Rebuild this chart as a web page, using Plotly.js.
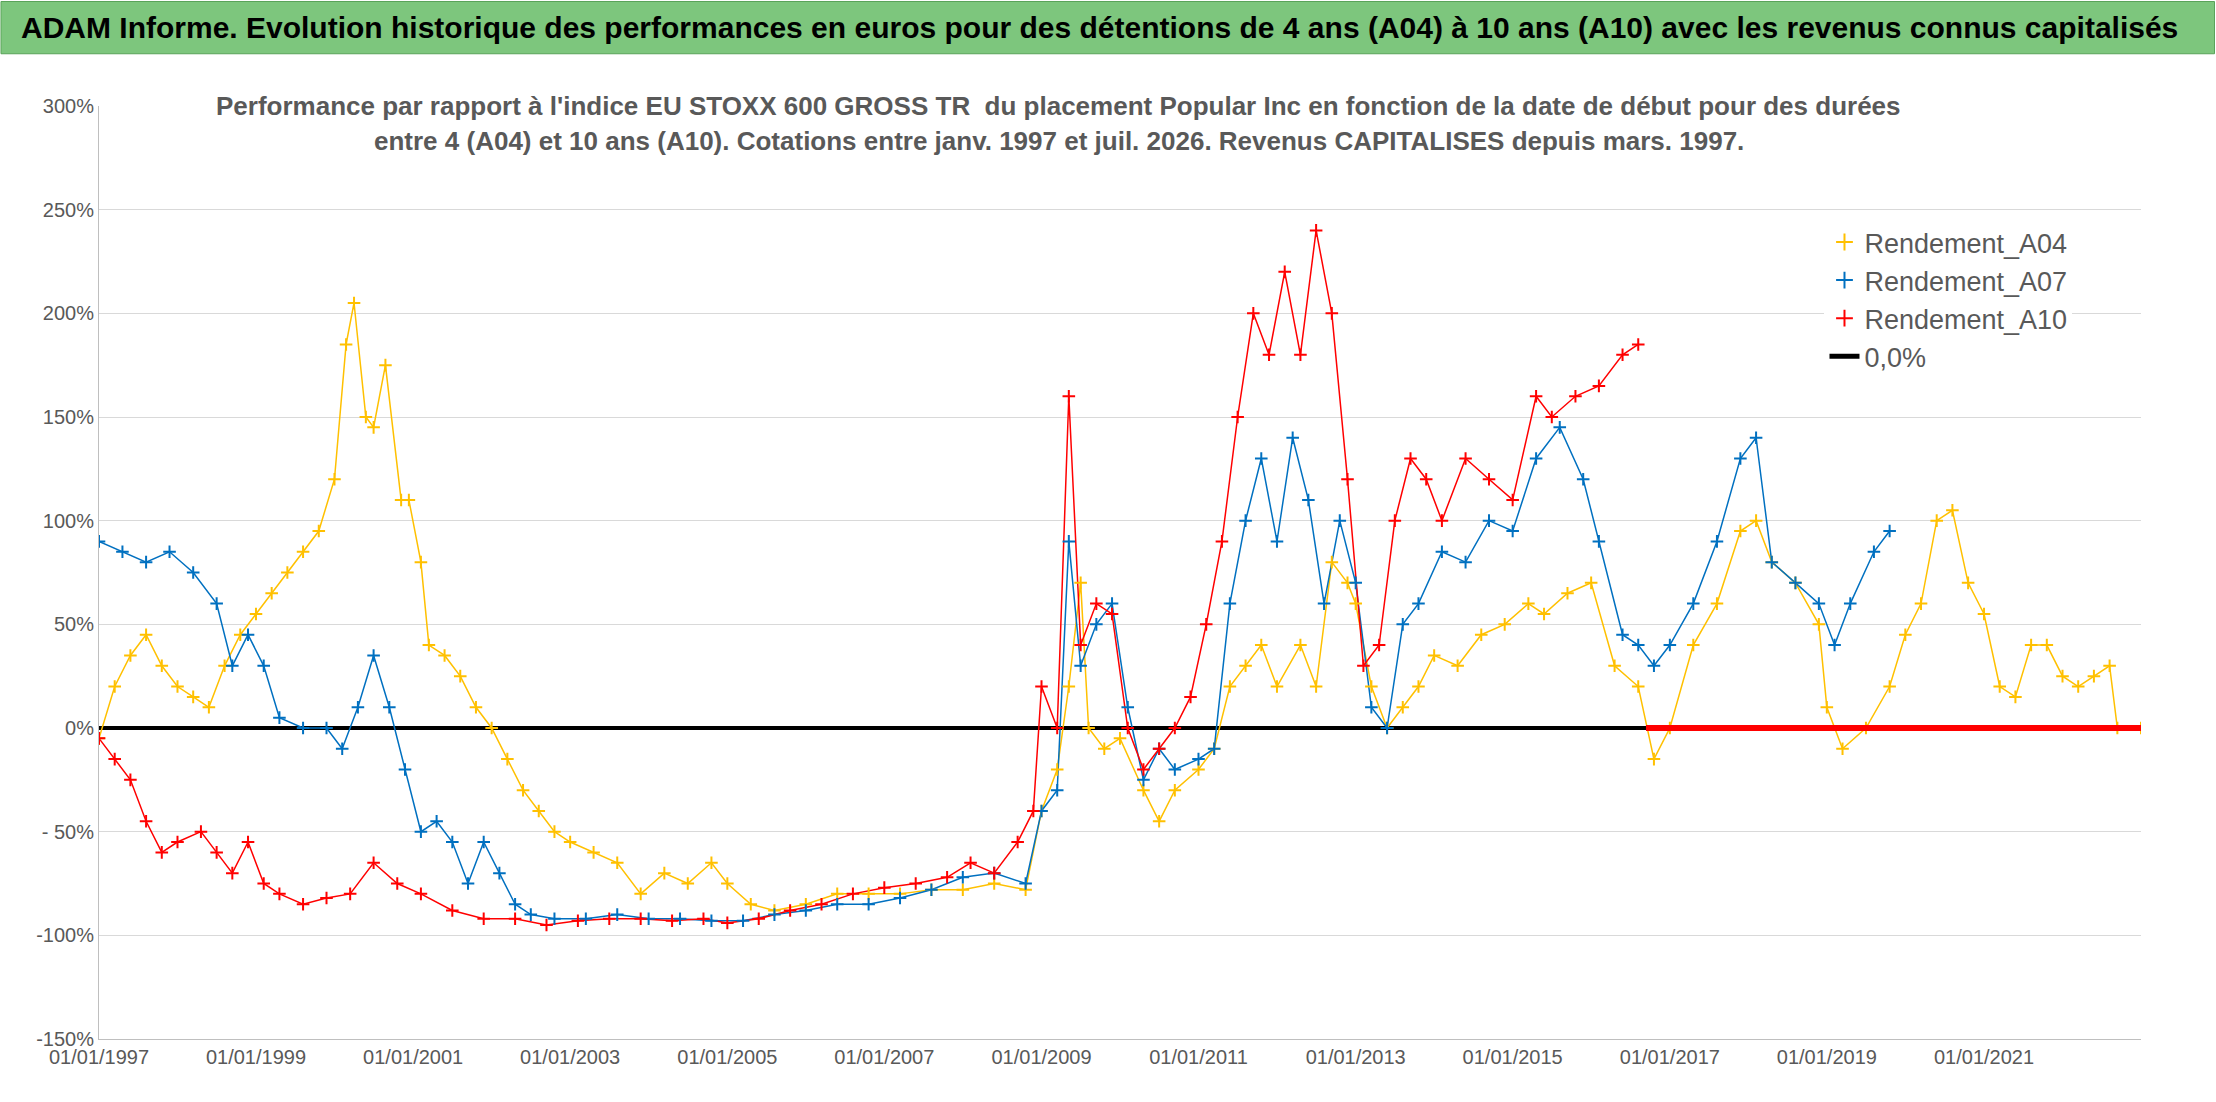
<!DOCTYPE html><html><head><meta charset="utf-8">
<script src="https://cdn.plot.ly/plotly-3.0.1.min.js"></script>
<style>body{margin:0;background:#fff}#c{width:2216px;height:1102px}</style></head><body><div id="c"></div><script>
const a04Years=[1997.0,1997.2,1997.4,1997.6,1997.8,1998.0,1998.2,1998.4,1998.6,1998.8,1999.0,1999.2,1999.4,1999.6,1999.8,2000.0,2000.15,2000.25,2000.4,2000.5,2000.65,2000.85,2000.95,2001.1,2001.2,2001.4,2001.6,2001.8,2002.0,2002.2,2002.4,2002.6,2002.8,2003.0,2003.3,2003.6,2003.9,2004.2,2004.5,2004.8,2005.0,2005.3,2005.6,2006.0,2006.4,2006.8,2007.2,2007.6,2008.0,2008.4,2008.8,2009.0,2009.2,2009.35,2009.5,2009.6,2009.8,2010.0,2010.3,2010.5,2010.7,2011.0,2011.2,2011.4,2011.6,2011.8,2012.0,2012.3,2012.5,2012.7,2012.9,2013.0,2013.2,2013.4,2013.6,2013.8,2014.0,2014.3,2014.6,2014.9,2015.2,2015.4,2015.7,2016.0,2016.3,2016.6,2016.8,2017.0,2017.3,2017.6,2017.9,2018.1,2018.3,2018.6,2018.9,2019.0,2019.2,2019.5,2019.8,2020.0,2020.2,2020.4,2020.6,2020.8,2021.0,2021.2,2021.4,2021.6,2021.8,2022.0,2022.2,2022.4,2022.6,2022.7,2023.0];
const a04Vals=[-5,20,35,45,30,20,15,10,30,45,55,65,75,85,95,120,185,205,150,145,175,110,110,80,40,35,25,10,0,-15,-30,-40,-50,-55,-60,-65,-80,-70,-75,-65,-75,-85,-88,-85,-80,-80,-80,-78,-78,-75,-78,-40,-20,20,70,0,-10,-5,-30,-45,-30,-20,-10,20,30,40,20,40,20,80,70,60,20,0,10,20,35,30,45,50,60,55,65,70,30,20,-15,0,40,60,95,100,80,70,50,10,-10,0,20,45,60,100,105,70,55,20,15,40,40,25,20,25,30,0,0];
const a07Years=[1997.0,1997.3,1997.6,1997.9,1998.2,1998.5,1998.7,1998.9,1999.1,1999.3,1999.6,1999.9,2000.1,2000.3,2000.5,2000.7,2000.9,2001.1,2001.3,2001.5,2001.7,2001.9,2002.1,2002.3,2002.5,2002.8,2003.2,2003.6,2004.0,2004.4,2004.8,2005.2,2005.6,2006.0,2006.4,2006.8,2007.2,2007.6,2008.0,2008.4,2008.8,2009.0,2009.2,2009.35,2009.5,2009.7,2009.9,2010.1,2010.3,2010.5,2010.7,2011.0,2011.2,2011.4,2011.6,2011.8,2012.0,2012.2,2012.4,2012.6,2012.8,2013.0,2013.2,2013.4,2013.6,2013.8,2014.1,2014.4,2014.7,2015.0,2015.3,2015.6,2015.9,2016.1,2016.4,2016.6,2016.8,2017.0,2017.3,2017.6,2017.9,2018.1,2018.3,2018.6,2018.9,2019.1,2019.3,2019.6,2019.8];
const a07Vals=[90,85,80,85,75,60,30,45,30,5,0,0,-10,10,35,10,-20,-50,-45,-55,-75,-55,-70,-85,-90,-92,-92,-90,-92,-92,-93,-93,-90,-88,-85,-85,-82,-78,-72,-70,-75,-40,-30,90,30,50,60,10,-25,-10,-20,-15,-10,60,100,130,90,140,110,60,100,70,10,0,50,60,85,80,100,95,130,145,120,90,45,40,30,40,60,90,130,140,80,70,60,40,60,85,95];
const a10Years=[1997.0,1997.2,1997.4,1997.6,1997.8,1998.0,1998.3,1998.5,1998.7,1998.9,1999.1,1999.3,1999.6,1999.9,2000.2,2000.5,2000.8,2001.1,2001.5,2001.9,2002.3,2002.7,2003.1,2003.5,2003.9,2004.3,2004.7,2005.0,2005.4,2005.8,2006.2,2006.6,2007.0,2007.4,2007.8,2008.1,2008.4,2008.7,2008.9,2009.0,2009.2,2009.35,2009.5,2009.7,2009.9,2010.1,2010.3,2010.5,2010.7,2010.9,2011.1,2011.3,2011.5,2011.7,2011.9,2012.1,2012.3,2012.5,2012.7,2012.9,2013.1,2013.3,2013.5,2013.7,2013.9,2014.1,2014.4,2014.7,2015.0,2015.3,2015.5,2015.8,2016.1,2016.4,2016.6];
const a10Vals=[-5,-15,-25,-45,-60,-55,-50,-60,-70,-55,-75,-80,-85,-82,-80,-65,-75,-80,-88,-92,-92,-95,-93,-92,-92,-93,-92,-94,-92,-88,-85,-80,-77,-75,-72,-65,-70,-55,-40,20,0,160,40,60,55,0,-20,-10,0,15,50,90,150,200,180,220,180,240,200,120,30,40,100,130,120,100,130,120,110,160,150,160,165,180,185];
const zeroTailYears=[[2016.7,2023.0],[2019.9,2023.0]];
const tickYears=[1997,1999,2001,2003,2005,2007,2009,2011,2013,2015,2017,2019,2021];
const yTicks=[-150,-100,-50,0,50,100,150,200,250,300];
const yLabels=['-150%','-100%','- 50%','0%','50%','100%','150%','200%','250%','300%'];
function toDate(y){const yr=Math.floor(y);const ms=Date.UTC(yr,0,1)+(y-yr)*365.25*864e5;return new Date(ms).toISOString().slice(0,10);}
const C4='#FFC000',C7='#0070C0',C10='#FF0000';
function mk(xs,ys,c,name,leg){return {type:'scatter',mode:'markers',x:xs.map(toDate),y:ys,name:name,showlegend:leg,
 marker:{symbol:'cross-thin-open',size:9,line:{width:2,color:c},color:c}};}
function ln(xs,ys,c){return {type:'scatter',mode:'lines',x:xs.map(toDate),y:ys,showlegend:false,hoverinfo:'skip',line:{color:c,width:1.5}};}
const data=[
 {type:'scatter',mode:'lines',x:['1997-01-01','2023-01-01'],y:[0,0],name:'0,0%',line:{color:'#000',width:4},showlegend:false},
 ln(a04Years,a04Vals,C4),ln(a07Years,a07Vals,C7),ln(a10Years,a10Vals,C10),
 mk(a04Years,a04Vals,C4,'Rendement_A04',true),
 {type:'scatter',mode:'lines',x:zeroTailYears[1].map(toDate),y:[0,0],showlegend:false,line:{color:C7,width:5}},
 mk(a07Years,a07Vals,C7,'Rendement_A07',true),
 {type:'scatter',mode:'lines',x:zeroTailYears[0].map(toDate),y:[0,0],showlegend:false,line:{color:C10,width:6}},
 mk(a10Years,a10Vals,C10,'Rendement_A10',true),
 {type:'scatter',mode:'lines',x:[null],y:[null],name:'0,0%',line:{color:'#000',width:5}}
];
const F='"Liberation Sans Narrow", "Liberation Sans", sans-serif';
const layout={width:2216,height:1102,margin:{l:99,r:75,t:106,b:63},paper_bgcolor:'#fff',plot_bgcolor:'#fff',
 font:{family:F,color:'#595959'},
 xaxis:{type:'date',range:['1997-01-01','2023-01-01'],tickvals:tickYears.map(y=>y+'-01-01'),ticktext:tickYears.map(y=>'01/01/'+y),
  showgrid:false,zeroline:false,showline:true,linecolor:'#bfbfbf',tickfont:{size:20,color:'#595959'},ticks:''},
 yaxis:{range:[-150,300],tickvals:yTicks,ticktext:yLabels,showgrid:true,gridcolor:'#d9d9d9',zeroline:false,showline:true,linecolor:'#bfbfbf',tickfont:{size:20,color:'#595959'}},
 legend:{x:0.845,xanchor:'left',y:0.88,yanchor:'top',bgcolor:'#fff',font:{size:27,color:'#595959',family:F},tracegroupgap:14,itemsizing:'constant'},
 shapes:[{type:'rect',xref:'paper',yref:'paper',x0:-0.048,x1:1.036,y0:1.056,y1:1.112,fillcolor:'#7DC67D',line:{color:'#5aa35a',width:1},layer:'below'}],
 annotations:[
  {xref:'paper',yref:'paper',x:0.49,y:1.084,yanchor:'middle',showarrow:false,text:'<b>ADAM Informe. Evolution historique des performances en euros pour des détentions de 4 ans (A04) à 10 ans (A10) avec les revenus connus capitalisés</b>',font:{size:30,color:'#000',family:F}},
  {xref:'paper',yref:'paper',x:0.47,y:1.0,yanchor:'middle',showarrow:false,text:"<b>Performance par rapport à l'indice EU STOXX 600 GROSS TR  du placement Popular Inc en fonction de la date de début pour des durées</b>",font:{size:26,color:'#595959',family:F}},
  {xref:'paper',yref:'paper',x:0.47,y:0.962,yanchor:'middle',showarrow:false,text:"<b>entre 4 (A04) et 10 ans (A10). Cotations entre janv. 1997 et juil. 2026. Revenus CAPITALISES depuis mars. 1997.</b>",font:{size:26,color:'#595959',family:F}}
 ]};
Plotly.newPlot('c',data,layout,{staticPlot:true});
</script></body></html>
